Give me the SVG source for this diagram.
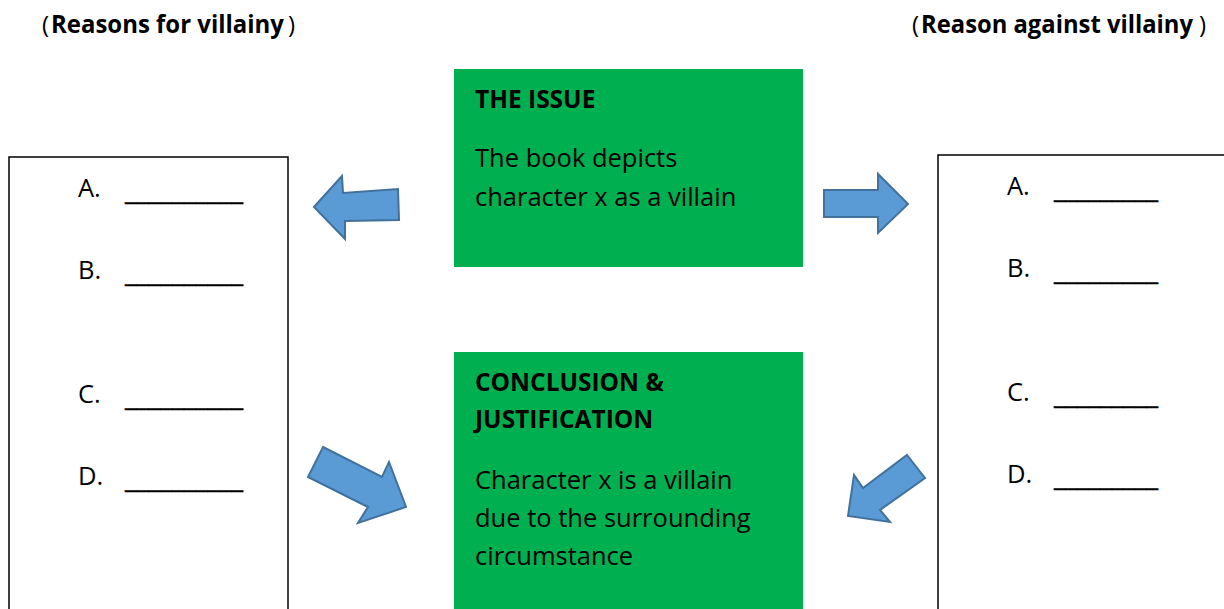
<svg xmlns="http://www.w3.org/2000/svg" width="1224" height="609" viewBox="0 0 1224 609">
<style>
.t{font-family:"Open Sans","Noto Sans","Liberation Sans",sans-serif;font-size:25.5px;fill:#000}
.b{font-weight:bold;font-size:24.5px}
.p{font-family:"Open Sans","Noto Sans","Liberation Sans",sans-serif;font-size:24px;fill:#000}
.u{font-family:"Open Sans","Noto Sans","Liberation Sans",sans-serif;font-size:25.5px;fill:#000;stroke:#000;stroke-width:0.6}
.box{fill:#fff;stroke:#000;stroke-width:1.5}
.green{fill:#00B050}
.arr{fill:#5B9BD5;stroke:#41719C;stroke-width:2;stroke-linejoin:miter}
</style>
<rect width="1224" height="609" fill="#fff"/>
<g id="title-left"><text class="p" x="42" y="33">(</text><text class="t b" x="51" y="33" textLength="233" lengthAdjust="spacingAndGlyphs">Reasons for villainy</text><text class="p" x="288" y="33">)</text></g>
<g id="title-right"><text class="p" x="912" y="33">(</text><text class="t b" x="921" y="33" textLength="272" lengthAdjust="spacingAndGlyphs">Reason against villainy</text><text class="p" x="1199" y="33">)</text></g>
<g id="left-box">
<rect class="box" x="9" y="157" width="279" height="470"/>
<text class="t" x="78" y="197">A.</text><text class="u" x="125" y="200" textLength="118" lengthAdjust="spacingAndGlyphs">__________</text>
<text class="t" x="78" y="279">B.</text><text class="u" x="125" y="282" textLength="118" lengthAdjust="spacingAndGlyphs">__________</text>
<text class="t" x="78" y="403">C.</text><text class="u" x="125" y="406" textLength="118" lengthAdjust="spacingAndGlyphs">__________</text>
<text class="t" x="78" y="485">D.</text><text class="u" x="125" y="488" textLength="118" lengthAdjust="spacingAndGlyphs">__________</text>
</g>
<g id="right-box">
<rect class="box" x="938" y="155" width="300" height="470"/>
<text class="t" x="1007" y="195">A.</text><text class="u" x="1054" y="198" textLength="104" lengthAdjust="spacingAndGlyphs">_________</text>
<text class="t" x="1007" y="277">B.</text><text class="u" x="1054" y="280" textLength="104" lengthAdjust="spacingAndGlyphs">_________</text>
<text class="t" x="1007" y="401">C.</text><text class="u" x="1054" y="404" textLength="104" lengthAdjust="spacingAndGlyphs">_________</text>
<text class="t" x="1007" y="483">D.</text><text class="u" x="1054" y="486" textLength="104" lengthAdjust="spacingAndGlyphs">_________</text>
</g>
<g id="issue">
<rect class="green" x="454" y="69" width="349" height="198"/>
<text class="t b" x="475" y="108">THE ISSUE</text>
<text class="t" x="475" y="167">The book depicts</text>
<text class="t" x="475" y="206">character x as a villain</text>
</g>
<g id="conclusion">
<rect class="green" x="454" y="352" width="349" height="270"/>
<text class="t b" x="475" y="391">CONCLUSION &amp;</text>
<text class="t b" x="475" y="428">JUSTIFICATION</text>
<text class="t" x="475" y="489">Character x is a villain</text>
<text class="t" x="475" y="527">due to the surrounding</text>
<text class="t" x="475" y="565">circumstance</text>
</g>
<g id="connectors">
<polygon class="arr" points="314,207 342,176 343,193 398,189 399,220 345,221 345,239"/>
<polygon class="arr" points="824,190 878,190 878,174 908,204 878,233 878,217 824,217"/>
<polygon class="arr" points="323,447 382,477 389,462 406,507 358,523 368,507 308,477"/>
<polygon class="arr" points="907,455 925,478 880,510 890,522 848,516 854,475 863,488"/>
</g>
</svg>
